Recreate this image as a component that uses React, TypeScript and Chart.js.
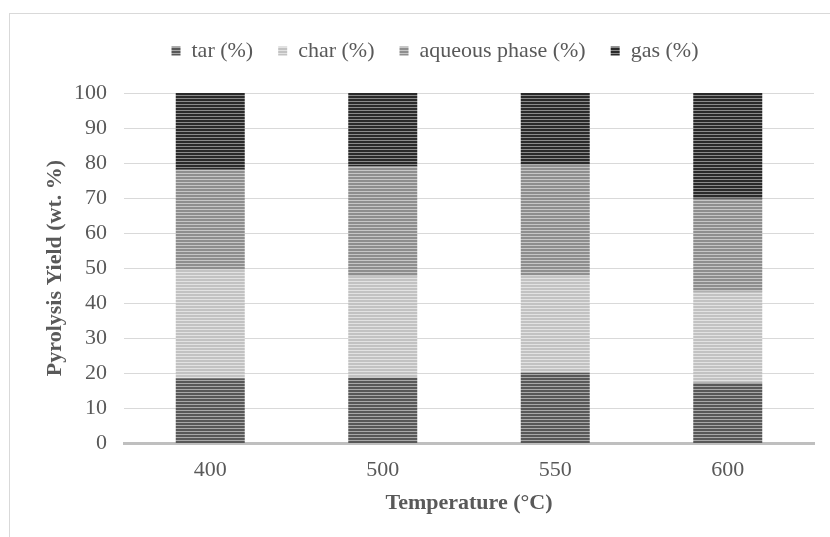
import React, { useEffect, useRef } from "react";
import { Chart, registerables } from "chart.js";

Chart.register(...registerables);

const categories = ["400", "500", "550", "600"];
const tar = [18.5, 18.7, 20.1, 17.2];
const char = [31.0, 28.9, 27.7, 26.0];
const aqueous = [28.6, 31.4, 31.7, 26.6];
const gas = [21.9, 21.0, 20.5, 30.2];
const yTicks = [0, 10, 20, 30, 40, 50, 60, 70, 80, 90, 100];

function stripe(base: string, line: string, period = 3): CanvasPattern | string {
  const cv = document.createElement("canvas");
  cv.width = 4;
  cv.height = period;
  const g = cv.getContext("2d");
  if (!g) return base;
  g.fillStyle = base;
  g.fillRect(0, 0, 4, period);
  g.fillStyle = line;
  g.fillRect(0, period - 1, 4, 1);
  return g.createPattern(cv, "repeat") || base;
}

const legendShift = {
  id: "legendShift",
  afterLayout(chart: any) {
    const lg = chart.legend;
    if (lg) {
      lg.left += 28;
      lg.right += 28;
    }
  },
};

export default function App() {
  const ref = useRef<HTMLCanvasElement | null>(null);
  useEffect(() => {
    if (!ref.current) return;
    const font = "'Liberation Serif', 'Times New Roman', serif";
    const chart = new Chart(ref.current, {
      type: "bar",
      data: {
        labels: categories,
        datasets: [
          { label: "tar (%)", data: tar, backgroundColor: stripe("#585858", "#a8a8a8") as any, borderWidth: 0 },
          { label: "char (%)", data: char, backgroundColor: stripe("#c2c2c2", "#e2e2e2") as any, borderWidth: 0 },
          { label: "aqueous phase (%)", data: aqueous, backgroundColor: stripe("#8e8e8e", "#c6c6c6") as any, borderWidth: 0 },
          { label: "gas (%)", data: gas, backgroundColor: stripe("#2a2a2a", "#8a8a8a") as any, borderWidth: 0 },
        ],
      },
      plugins: [legendShift],
      options: {
        responsive: false,
        animation: false,
        layout: { padding: { top: 15, right: 16, bottom: 0, left: 0 } },
        datasets: { bar: { categoryPercentage: 1, barPercentage: 0.4 } },
        plugins: {
          tooltip: { enabled: false },
          legend: {
            position: "top",
            weight: 3000,
            labels: {
              boxWidth: 9,
              boxHeight: 9,
              padding: 25,
              color: "#595959",
              font: { family: font, size: 22 },
            },
          } as any,
          title: {
            display: true,
            text: " ",
            font: { size: 10 },
            padding: { top: 0, bottom: 9 },
          },
        },
        scales: {
          x: {
            stacked: true,
            grid: { display: false, drawTicks: false },
            border: { display: true, color: "#bfbfbf", width: 3 },
            ticks: { color: "#595959", padding: 14, font: { family: font, size: 22 } },
            title: {
              display: true,
              text: "Temperature (°C)",
              color: "#595959",
              padding: { top: 0, bottom: 20 },
              font: { family: font, size: 22, weight: "bold" },
            },
            afterFit: (s: any) => {
              s.height = 94;
            },
          },
          y: {
            stacked: true,
            min: 0,
            max: 100,
            afterBuildTicks: (s: any) => {
              s.ticks = yTicks.map((v) => ({ value: v }));
            },
            grid: {
              color: "#d9d9d9",
              lineWidth: (c: any) => (c.tick && c.tick.value === 0 ? 0 : 1),
              drawTicks: false,
            },
            border: { display: false },
            ticks: { color: "#595959", padding: 17, font: { family: font, size: 22 } },
            title: {
              display: true,
              text: "Pyrolysis Yield (wt. %)",
              color: "#595959",
              padding: { top: 42, bottom: 0 },
              font: { family: font, size: 22, weight: "bold" },
            },
            afterFit: (s: any) => {
              s.width = 124;
            },
          },
        },
      },
    });
    return () => chart.destroy();
  }, []);
  return (
    <div style={{ position: "fixed", left: 0, top: 0, width: 830, height: 537, overflow: "hidden", background: "#fff" }}>
      <div style={{ position: "absolute", left: 9, top: 13, width: 900, height: 600, border: "1px solid #d9d9d9" }} />
      <canvas ref={ref} width={830} height={537} style={{ position: "absolute", left: 0, top: 0 }} />
    </div>
  );
}
